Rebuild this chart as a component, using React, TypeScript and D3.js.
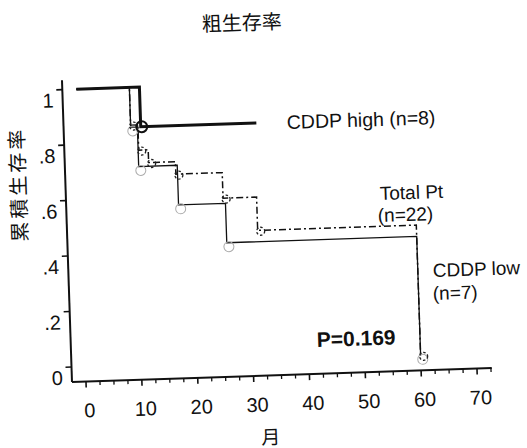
import React from "react";
import * as d3 from "d3";

// Month ticks along the time axis, survival ticks along the vertical axis
const xTickValues = [0, 10, 20, 30, 40, 50, 60, 70];
const xMinorStep = 2.5;
const yTickValues = [0, 0.2, 0.4, 0.6, 0.8, 1];
const yTickLabels = ["0", ".2", ".4", ".6", ".8", "1"];

// Kaplan–Meier estimates: event times (months) and survival after each event
const highEventTimes = [11.3];
const highEventSurv = [0.857];
const highLastFollowUp = 32;

const lowEventTimes = [9.5, 10.7, 17.6, 26.0, 60];
const lowEventSurv = [0.857, 0.714, 0.571, 0.429, 0];

const totalEventTimes = [9.5, 10.8, 12.5, 17.3, 25.6, 31.6, 60];
const totalEventSurv = [0.864, 0.773, 0.727, 0.682, 0.59, 0.47, 0];

const W = 527;
const H = 448;
const OX = 72; // axes corner
const OY = 382;
const TILT = -1.9; // the whole plate sits slightly askew

const x = d3.scaleLinear().domain([0, 70]).range([OX + 14, OX + 405.2]);
const y = d3.scaleLinear().domain([0, 1]).range([OY - 15, OY - 292.5]);

type Pt = [number, number];

function stepPoints(times: number[], surv: number[], lastFollowUp?: number): Pt[] {
  const pts: Pt[] = [[0, 1]];
  times.forEach((t, i) => pts.push([t, surv[i]]));
  if (lastFollowUp !== undefined) pts.push([lastFollowUp, surv[surv.length - 1]]);
  return pts;
}

const stepLine = d3
  .line<Pt>()
  .x((d) => x(d[0]))
  .y((d) => y(d[1]))
  .curve(d3.curveStepAfter);

const FONT = "'Liberation Sans', Arial, Helvetica, sans-serif";
const CJK = "'Noto Sans CJK JP', 'Noto Sans CJK SC', sans-serif";

function Label(props: {
  x: number;
  y: number;
  text: string;
  size?: number;
  weight?: string | number;
  anchor?: string;
  family?: string;
  angle?: number;
  spacing?: number;
}) {
  const { x: lx, y: ly, text, size = 19, weight = "normal", anchor = "start", family = FONT, angle = TILT, spacing } = props;
  return (
    <text
      x={lx}
      y={ly}
      fontSize={size}
      fontWeight={weight}
      textAnchor={anchor}
      fontFamily={family}
      letterSpacing={spacing}
      fill="#111"
      transform={`rotate(${angle}, ${lx}, ${ly})`}
    >
      {text}
    </text>
  );
}

export default function App() {
  const highPts = stepPoints(highEventTimes, highEventSurv, highLastFollowUp);
  const lowPts = stepPoints(lowEventTimes, lowEventSurv);
  const totalPts = stepPoints(totalEventTimes, totalEventSurv);

  const minorTicks = d3.range(0, 72.5 + 1e-6, xMinorStep).filter((t) => !xTickValues.includes(t));

  return (
    <svg
      width={W}
      height={H}
      viewBox={`0 0 ${W} ${H}`}
      style={{ position: "absolute", left: 0, top: 0, background: "#fff" }}
    >
      <rect x={0} y={0} width={W} height={H} fill="#fff" />

      <g transform={`rotate(${TILT}, ${OX}, ${OY})`}>
        {/* axes */}
        <line x1={OX} y1={OY} x2={OX + 420} y2={OY} stroke="#111" strokeWidth={2} />
        <line x1={OX} y1={OY} x2={OX} y2={OY - 302} stroke="#111" strokeWidth={2} />

        {xTickValues.map((t) => (
          <g key={`xt${t}`}>
            <line x1={x(t)} x2={x(t)} y1={OY} y2={OY + 6} stroke="#111" strokeWidth={1.6} />
            <text
              x={x(t) + 3}
              y={OY + 36}
              fontSize={20}
              fontFamily={FONT}
              textAnchor="middle"
              fill="#111"
            >
              {t}
            </text>
          </g>
        ))}
        {minorTicks.map((t) => (
          <line key={`xm${t}`} x1={x(t)} x2={x(t)} y1={OY} y2={OY + 4} stroke="#111" strokeWidth={1.3} />
        ))}

        {yTickValues.map((v, i) => (
          <g key={`yt${v}`}>
            <line x1={OX - 6} x2={OX} y1={y(v)} y2={y(v)} stroke="#111" strokeWidth={1.6} />
            <text
              x={OX - 9}
              y={y(v) + 17.5}
              fontSize={20}
              fontFamily={FONT}
              textAnchor="end"
              fill="#111"
            >
              {yTickLabels[i]}
            </text>
          </g>
        ))}

        {/* survival curves */}
        <path
          d={stepLine(totalPts) ?? ""}
          fill="none"
          stroke="#111"
          strokeWidth={1.5}
          strokeDasharray="7,3,2,3"
        />
        <path d={stepLine(lowPts) ?? ""} fill="none" stroke="#111" strokeWidth={1.3} />
        <path d={stepLine(highPts) ?? ""} fill="none" stroke="#111" strokeWidth={3} />

        {/* event markers */}
        {lowEventTimes.map((t, i) => (
          <circle
            key={`lm${i}`}
            cx={x(t) + 2}
            cy={y(lowEventSurv[i]) + 4}
            r={5}
            fill="none"
            stroke="#aaa"
            strokeWidth={1}
          />
        ))}
        {totalEventTimes.map((t, i) => (
          <circle
            key={`tm${i}`}
            cx={x(t) + 3}
            cy={y(totalEventSurv[i]) + 1}
            r={4}
            fill="none"
            stroke="#222"
            strokeWidth={1.3}
            strokeDasharray="2.5,2"
          />
        ))}
        {highEventTimes.map((t, i) => (
          <circle
            key={`hm${i}`}
            cx={x(t) + 1}
            cy={y(highEventSurv[i])}
            r={5.5}
            fill="none"
            stroke="#111"
            strokeWidth={2}
          />
        ))}
      </g>

      {/* titles and annotations */}
      <Label x={242} y={30} text="粗生存率" size={20} family={CJK} anchor="middle" />
      <Label x={25.5} y={184} text="累積生存率" size={20} family={CJK} anchor="middle" angle={-90 + TILT} spacing={3} />
      <Label x={271} y={444} text="月" size={19} family={CJK} anchor="middle" />

      <Label x={287} y={129} text="CDDP high (n=8)" size={19.5} />
      <Label x={380} y={200} text="Total Pt" size={19} />
      <Label x={378} y={222} text="(n=22)" size={19} />
      <Label x={433} y={277} text="CDDP low" size={19} />
      <Label x={433} y={300} text="(n=7)" size={19} />
      <Label x={317} y={347} text="P=0.169" size={21} weight="bold" />
    </svg>
  );
}
